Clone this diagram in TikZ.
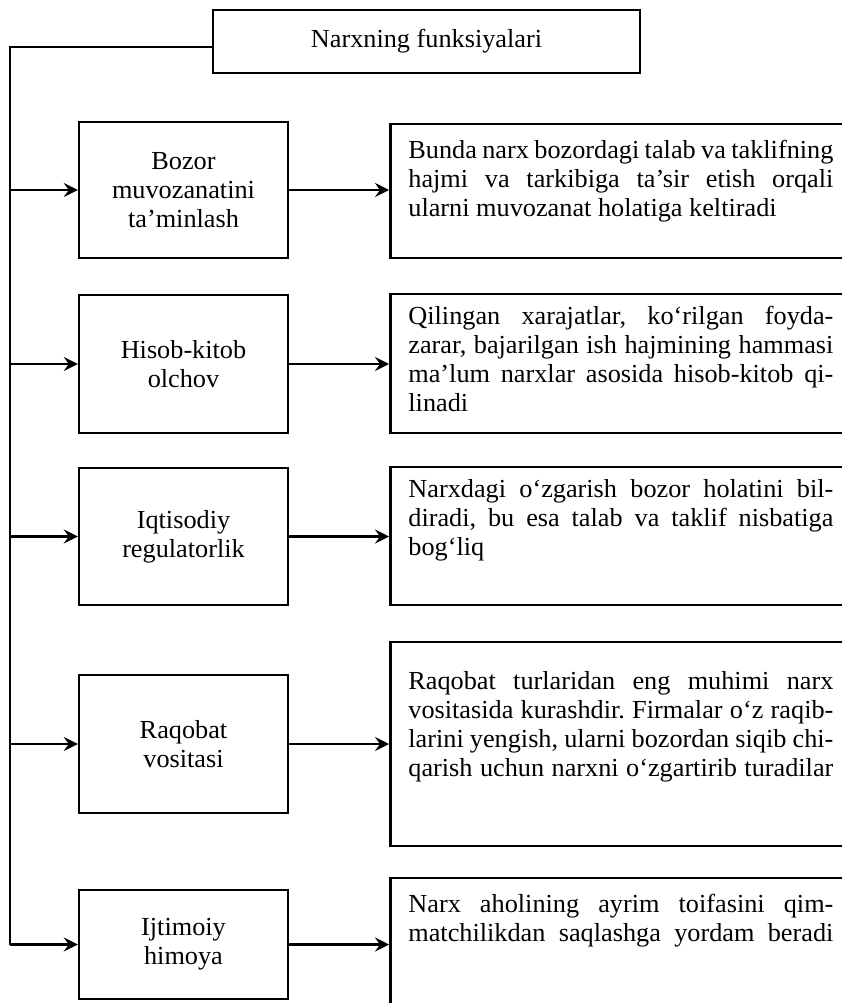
\documentclass[tikz,border=0pt]{standalone}
\usepackage{fontspec}
\setmainfont{Liberation Serif}[FakeStretch=1.01]
\usetikzlibrary{arrows.meta}
\frenchspacing

% one justified line of a description
\newcommand{\fline}[1]{\makebox[\linewidth][s]{#1}\par}
% description text: box height, drop of the first line, text
\newcommand{\desc}[3]{\parbox[c][#1][t]{425pt}{\vspace*{#2}#3}}

\begin{document}
\begin{tikzpicture}[x=1pt, y=-1pt, >={Stealth[length=14pt, width=14pt, inset=5pt]},
	txt/.style={font=\fontsize{26}{29}\selectfont},
	funcbox/.style={txt, draw, line width=2.4pt, align=center, minimum width=209pt, inner sep=0pt},
	descbox/.style={txt, draw, line width=2.8pt, inner xsep=18pt, inner ysep=12pt, anchor=west},
	link/.style={line width=2.4pt}]
	\useasboundingbox (0,0) rectangle (842,1003);
	\clip (0,0) rectangle (842,1003);

	% Title
	\node[funcbox, minimum width=427pt, minimum height=63pt] (top) at (426.5,41.5) {Narxning funksiyalari};
	\coordinate (bus) at (10,47);

	% Functions
	\node[funcbox, minimum height=136pt] (b1) at (183.5,190) {Bozor\\muvozanatini\\ta’minlash};
	\node[funcbox, minimum height=138pt] (b2) at (183.5,364) {Hisob-kitob\\olchov};
	\node[funcbox, minimum height=137pt] (b3) at (183.5,536.5) {Iqtisodiy\\regulatorlik};
	\node[funcbox, minimum height=138pt] (b4) at (183.5,744) {Raqobat\\vositasi};
	\node[funcbox, minimum height=109pt] (b5) at (183.5,944.5) {Ijtimoiy\\himoya};

	% Descriptions
	\node[descbox] (d1) at (389,191) {\desc{110pt}{4pt}{%
		\fline{Bunda narx bozordagi talab va taklifning}
		\fline{hajmi va tarkibiga ta’sir etish orqali}
		ularni muvozanat holatiga keltiradi}};
	\node[descbox] (d2) at (389,363.5) {\desc{115pt}{0pt}{%
		\fline{Qilingan xarajatlar, ko‘rilgan foyda-}
		\fline{zarar, bajarilgan ish hajmining hammasi}
		\fline{ma’lum narxlar asosida hisob-kitob qi-}
		linadi}};
	\node[descbox] (d3) at (389,536) {\desc{114pt}{0pt}{%
		\fline{Narxdagi o‘zgarish bozor holatini bil-}
		\fline{diradi, bu esa talab va taklif nisbatiga}
		bog‘liq}};
	\node[descbox] (d4) at (389,744) {\desc{180pt}{17pt}{%
		\fline{Raqobat turlaridan eng muhimi narx}
		\fline{vositasida kurashdir. Firmalar o‘z raqib-}
		\fline{larini yengish, ularni bozordan siqib chi-}
		\fline{qarish uchun narxni o‘zgartirib turadilar}}};
	\node[descbox] (d5) at (389,947) {\desc{114pt}{4pt}{%
		\fline{Narx aholining ayrim toifasini qim-}
		\fline{matchilikdan saqlashga yordam beradi}}};

	% Bus
	\draw[link] ([yshift=-5.5pt]top.west) -| (b5.west -| bus);

	% Arrows
	\draw[link] [->] (b1.west -| bus) -- (b1.west);
	\draw[link] [->] (b1.east) -- (b1.east -| d1.west);
	\draw[link] [->] (b2.west -| bus) -- (b2.west);
	\draw[link] [->] (b2.east) -- (b2.east -| d2.west);
	\draw[link] [->] (b3.west -| bus) -- (b3.west);
	\draw[link] [->] (b3.east) -- (b3.east -| d3.west);
	\draw[link] [->] (b4.west -| bus) -- (b4.west);
	\draw[link] [->] (b4.east) -- (b4.east -| d4.west);
	\draw[link] [->] (b5.west -| bus) -- (b5.west);
	\draw[link] [->] (b5.east) -- (b5.east -| d5.west);
\end{tikzpicture}
\end{document}
